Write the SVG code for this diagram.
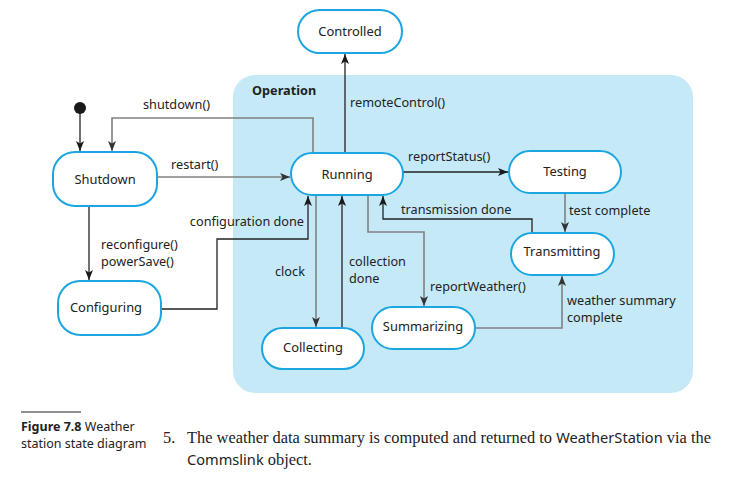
<svg xmlns="http://www.w3.org/2000/svg" width="740" height="477" viewBox="0 0 740 477">
<defs>
<marker id="ah" viewBox="0 0 10 8" refX="10" refY="4" markerWidth="10" markerHeight="8" markerUnits="userSpaceOnUse" orient="auto">
<path d="M0,0 L10,4 L0,8 L2.5,4 z" fill="#1a1a1a"/>
</marker>
<marker id="ahg" viewBox="0 0 10 8" refX="10" refY="4" markerWidth="10" markerHeight="8" markerUnits="userSpaceOnUse" orient="auto">
<path d="M0,0 L10,4 L0,8 L2.5,4 z" fill="#333"/>
</marker>
</defs>
<style>
.st{fill:#fff;stroke:#1ba6e2;stroke-width:2}
.lbl{font-family:"Noto Sans","DejaVu Sans",sans-serif;font-size:12.7px;fill:#222}
.nm{font-family:"Noto Sans","DejaVu Sans",sans-serif;font-size:12.9px;fill:#222;text-anchor:middle}
.c{fill:none;stroke:#222;stroke-width:1.3;marker-end:url(#ah)}
.g{fill:none;stroke:#808080;stroke-width:1.6;marker-end:url(#ahg)}
.cap{font-family:"Noto Sans","DejaVu Sans",sans-serif;font-size:12.5px;fill:#222}
.body{font-family:"Liberation Serif",serif;font-size:16.4px;fill:#222}
.bs{font-family:"Noto Sans","DejaVu Sans",sans-serif;font-size:14.6px;fill:#222}
</style>
<rect width="740" height="477" fill="#fff"/>
<g id="operation">
<rect x="233" y="75" width="460" height="318" rx="22" fill="#c6e9f8"/>
<text x="252" y="95" class="lbl" font-weight="bold">Operation</text>
</g>
<g id="connectors">
<path class="c" d="M80,113 V151"/>
<path class="g" d="M313,153 V118 H112 V151"/>
<path class="g" d="M157,177 H290"/>
<path class="c" d="M345,153 V54"/>
<path class="c" d="M403,172 H508"/>
<path class="g" d="M565,193 V232"/>
<path class="c" d="M532,233 V219 H383 V196"/>
<path class="g" d="M368,195 V232 H424 V306"/>
<path class="g" d="M475,328 H562 V276"/>
<path class="c" d="M161,309 H217 V239 H308 V196"/>
<path class="g" d="M316,195 V327"/>
<path class="c" d="M342,328 V196"/>
<path class="c" d="M89,206 V280"/>
</g>
<g id="labels">
<text x="143" y="109" class="lbl">shutdown()</text>
<text x="171" y="169" class="lbl">restart()</text>
<text x="350" y="107" class="lbl">remoteControl()</text>
<text x="408" y="161" class="lbl">reportStatus()</text>
<text x="569" y="215" class="lbl">test complete</text>
<text x="401" y="214" class="lbl">transmission done</text>
<text x="430" y="291" class="lbl">reportWeather()</text>
<text class="lbl"><tspan x="567" y="305">weather summary</tspan><tspan x="567" y="322">complete</tspan></text>
<text x="304" y="226" class="lbl" text-anchor="end">configuration done</text>
<text x="275" y="276" class="lbl">clock</text>
<text class="lbl"><tspan x="349" y="266">collection</tspan><tspan x="349" y="283">done</tspan></text>
<text class="lbl"><tspan x="101" y="249">reconfigure()</tspan><tspan x="101" y="266">powerSave()</tspan></text>
</g>
<g id="initial"><circle cx="80" cy="108" r="6" fill="#1a1a1a"/></g>
<g id="controlled"><rect class="st" x="298" y="10" width="104" height="43" rx="21.5"/><text x="350" y="36" class="nm">Controlled</text></g>
<g id="running"><rect class="st" x="291" y="153" width="112" height="42" rx="21"/><text x="347" y="179" class="nm">Running</text></g>
<g id="testing"><rect class="st" x="509" y="151" width="112" height="42" rx="21"/><text x="565" y="176" class="nm">Testing</text></g>
<g id="shutdown"><rect class="st" x="53" y="152" width="104" height="54" rx="22"/><text x="105" y="184" class="nm">Shutdown</text></g>
<g id="configuring"><rect class="st" x="58" y="281" width="103" height="54" rx="22"/><text x="106" y="312" class="nm">Configuring</text></g>
<g id="collecting"><rect class="st" x="262" y="328" width="102" height="41" rx="20.5"/><text x="313" y="352" class="nm">Collecting</text></g>
<g id="summarizing"><rect class="st" x="372" y="307" width="103" height="42" rx="21"/><text x="423" y="331" class="nm">Summarizing</text></g>
<g id="transmitting"><rect class="st" x="511" y="233" width="103" height="42" rx="21"/><text x="562" y="256" class="nm">Transmitting</text></g>
<g id="caption">
<line x1="21" y1="412" x2="81" y2="412" stroke="#222" stroke-width="1.2"/>
<text class="cap"><tspan x="21" y="431"><tspan font-weight="bold">Figure 7.8</tspan> Weather</tspan><tspan x="21" y="448">station state diagram</tspan></text>
<text x="163" y="443" class="body">5.</text>
<text class="body"><tspan x="187" y="443">The weather data summary is computed and returned to <tspan class="bs">WeatherStation</tspan> via the</tspan><tspan x="187" y="465"><tspan class="bs">Commslink</tspan> object.</tspan></text>
</g>
</svg>
